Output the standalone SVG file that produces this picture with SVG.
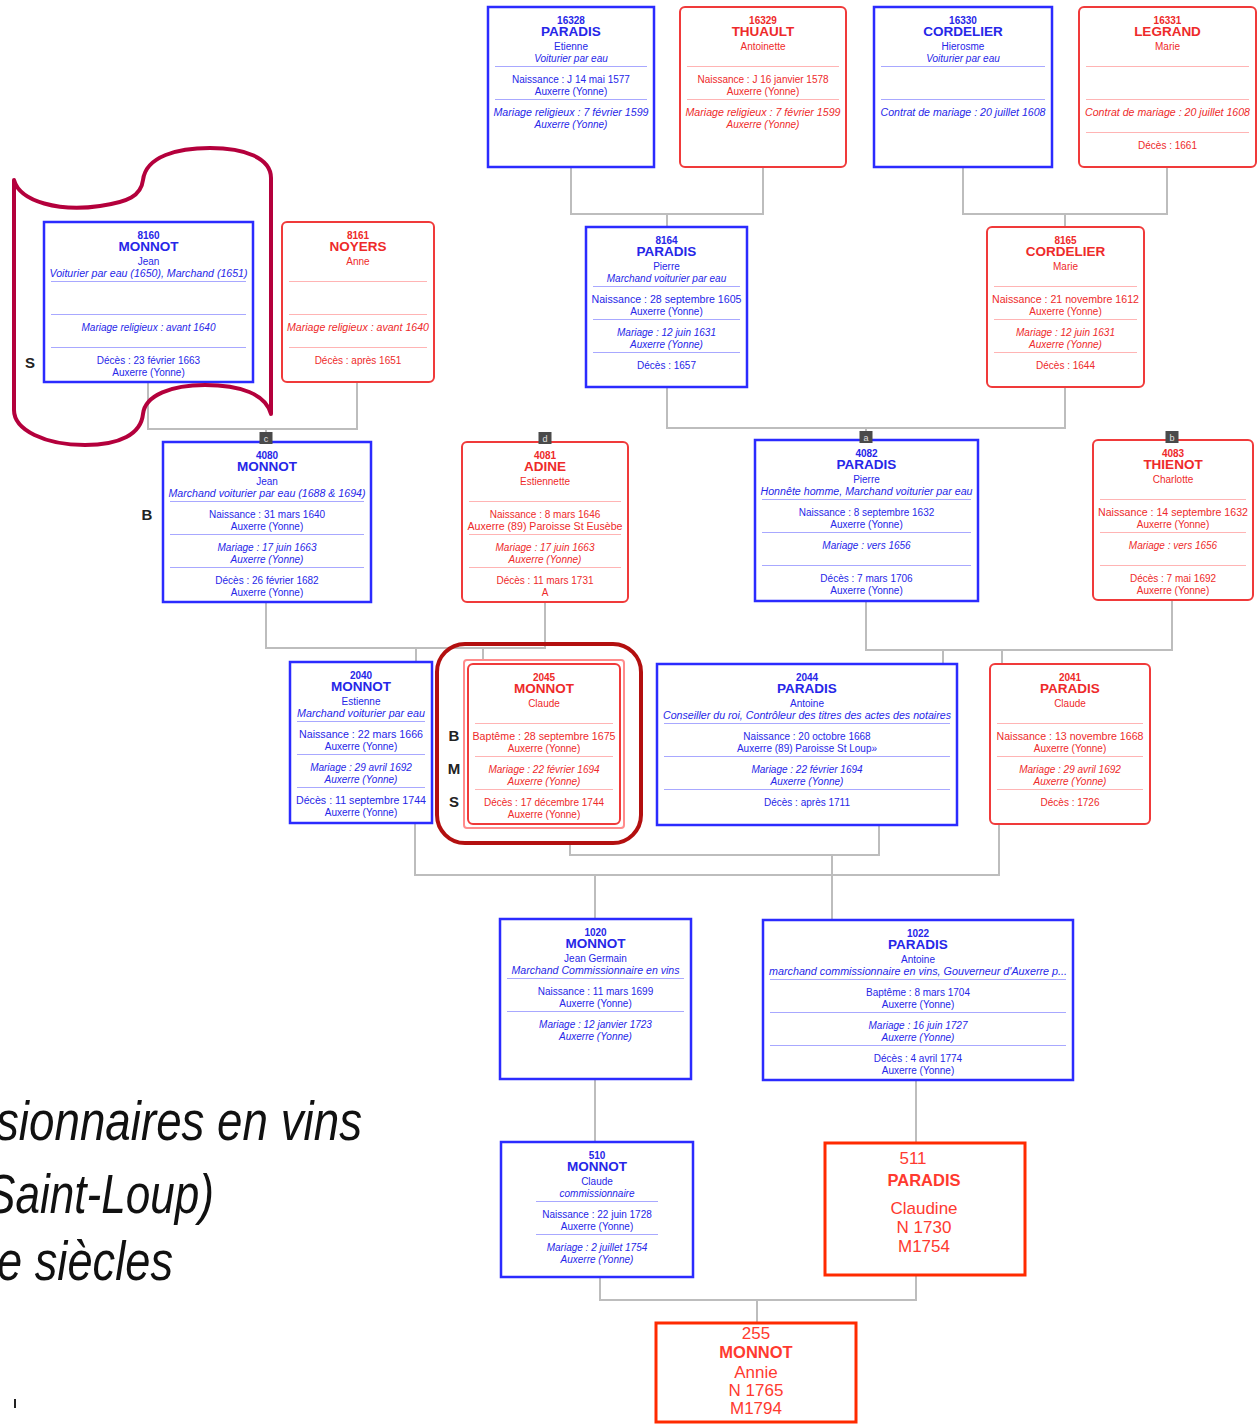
<svg xmlns="http://www.w3.org/2000/svg" width="1260" height="1426" viewBox="0 0 1260 1426">
<style>
text{font-family:"Liberation Sans",Arial,sans-serif;text-anchor:middle}
.bx{fill:#fff;stroke:#2b2bff;stroke-width:2.5}
.rx{fill:#fff;stroke:#f03a3a;stroke-width:2}
.ox{fill:#fff;stroke:#ff2a00;stroke-width:3}
.bt{fill:#2626e8}
.rt{fill:#ee2a2a}
.ot{fill:#ff3a30;font-size:17px}
.ob{font-weight:bold;font-size:16.5px}
.n{font-size:10px;font-weight:bold}
.m{font-size:13.5px;font-weight:bold}
.t{font-size:10px}
.i{font-size:10px;font-style:italic}
.db{stroke:#a8a8ff;stroke-width:1}
.dr{stroke:#ffb4b4;stroke-width:1}
.cn{fill:none;stroke:#bdbdbd;stroke-width:2}
.bd rect{fill:#4a4a4a}
.bd text{fill:#e0e0e0;font-size:9px}
.lb{font-size:15px;font-weight:bold;fill:#222}
.big{font-size:56px;font-style:italic;fill:#111;text-anchor:start}
</style>

<g id="connectors">
<path class="cn" d="M571,167V214H763V167M667,214V227"/>
<path class="cn" d="M963,167V214H1167V167M1065,214V227"/>
<path class="cn" d="M148,382V429H357V382M266,429V442"/>
<path class="cn" d="M667,387V428H1065V387M866,428V440"/>
<path class="cn" d="M266,602V648H545V602M416,648V662M483,648V660"/>
<path class="cn" d="M866,601V650H1172V600M943,650V664M1002,650V664"/>
<path class="cn" d="M415,823V875H999V824M595,875V919"/>
<path class="cn" d="M570,843V855H879V825M832,855V920"/>
<path class="cn" d="M595,1079V1142M916,1080V1143"/>
<path class="cn" d="M600,1277V1300H916V1275M757,1300V1323"/>
</g>

<g id="n16328">
<rect class="bx" x="488" y="7" width="166" height="160"/>
<g class="bt"><text class="n" x="571" y="24">16328</text><text class="m" x="571" y="36">PARADIS</text><text class="t" x="571" y="50">Etienne</text><text class="i" x="571" y="62">Voiturier par eau</text>
<text class="t" x="571" y="83">Naissance : J 14 mai 1577</text><text class="t" x="571" y="95">Auxerre (Yonne)</text>
<text class="i" x="571" y="116" textLength="155" lengthAdjust="spacingAndGlyphs">Mariage religieux : 7 février 1599</text><text class="i" x="571" y="128">Auxerre (Yonne)</text></g>
<path class="db" d="M495,66.5H647M495,99.5H647"/>
</g>

<g id="n16329">
<rect class="rx" x="680" y="7" width="166" height="160" rx="5"/>
<g class="rt"><text class="n" x="763" y="24">16329</text><text class="m" x="763" y="36">THUAULT</text><text class="t" x="763" y="50">Antoinette</text>
<text class="t" x="763" y="83">Naissance : J 16 janvier 1578</text><text class="t" x="763" y="95">Auxerre (Yonne)</text>
<text class="i" x="763" y="116" textLength="155" lengthAdjust="spacingAndGlyphs">Mariage religieux : 7 février 1599</text><text class="i" x="763" y="128">Auxerre (Yonne)</text></g>
<path class="dr" d="M687,66.5H839M687,99.5H839"/>
</g>

<g id="n16330">
<rect class="bx" x="874" y="7" width="178" height="160"/>
<g class="bt"><text class="n" x="963" y="24">16330</text><text class="m" x="963" y="36">CORDELIER</text><text class="t" x="963" y="50">Hierosme</text><text class="i" x="963" y="62">Voiturier par eau</text>
<text class="i" x="963" y="116" textLength="165" lengthAdjust="spacingAndGlyphs">Contrat de mariage : 20 juillet 1608</text></g>
<path class="db" d="M881,66.5H1045M881,99.5H1045"/>
</g>

<g id="n16331">
<rect class="rx" x="1079" y="7" width="177" height="160" rx="5"/>
<g class="rt"><text class="n" x="1167.5" y="24">16331</text><text class="m" x="1167.5" y="36">LEGRAND</text><text class="t" x="1167.5" y="50">Marie</text>
<text class="i" x="1167.5" y="116" textLength="165" lengthAdjust="spacingAndGlyphs">Contrat de mariage : 20 juillet 1608</text>
<text class="t" x="1167.5" y="149">Décès : 1661</text></g>
<path class="dr" d="M1086,66.5H1249M1086,99.5H1249M1086,132.5H1249"/>
</g>

<g id="n8160">
<rect class="bx" x="44" y="222" width="209" height="160"/>
<g class="bt"><text class="n" x="148.5" y="239">8160</text><text class="m" x="148.5" y="251">MONNOT</text><text class="t" x="148.5" y="265">Jean</text><text class="i" x="148.5" y="277" textLength="198" lengthAdjust="spacingAndGlyphs">Voiturier par eau (1650), Marchand (1651)</text>
<text class="i" x="148.5" y="331">Mariage religieux : avant 1640</text>
<text class="t" x="148.5" y="364">Décès : 23 février 1663</text><text class="t" x="148.5" y="376">Auxerre (Yonne)</text></g>
<path class="db" d="M51,281.5H246M51,314.5H246M51,347.5H246"/>
</g>

<g id="n8161">
<rect class="rx" x="282" y="222" width="152" height="160" rx="5"/>
<g class="rt"><text class="n" x="358" y="239">8161</text><text class="m" x="358" y="251">NOYERS</text><text class="t" x="358" y="265">Anne</text>
<text class="i" x="358" y="331" textLength="142" lengthAdjust="spacingAndGlyphs">Mariage religieux : avant 1640</text>
<text class="t" x="358" y="364">Décès : après 1651</text></g>
<path class="dr" d="M289,281.5H427M289,314.5H427M289,347.5H427"/>
</g>

<g id="n8164">
<rect class="bx" x="586" y="227" width="161" height="160"/>
<g class="bt"><text class="n" x="666.5" y="244">8164</text><text class="m" x="666.5" y="256">PARADIS</text><text class="t" x="666.5" y="270">Pierre</text><text class="i" x="666.5" y="282">Marchand voiturier par eau</text>
<text class="t" x="666.5" y="303" textLength="150" lengthAdjust="spacingAndGlyphs">Naissance : 28 septembre 1605</text><text class="t" x="666.5" y="315">Auxerre (Yonne)</text>
<text class="i" x="666.5" y="336">Mariage : 12 juin 1631</text><text class="i" x="666.5" y="348">Auxerre (Yonne)</text>
<text class="t" x="666.5" y="369">Décès : 1657</text></g>
<path class="db" d="M593,286.5H740M593,319.5H740M593,352.5H740"/>
</g>

<g id="n8165">
<rect class="rx" x="987" y="227" width="157" height="160" rx="5"/>
<g class="rt"><text class="n" x="1065.5" y="244">8165</text><text class="m" x="1065.5" y="256">CORDELIER</text><text class="t" x="1065.5" y="270">Marie</text>
<text class="t" x="1065.5" y="303" textLength="147" lengthAdjust="spacingAndGlyphs">Naissance : 21 novembre 1612</text><text class="t" x="1065.5" y="315">Auxerre (Yonne)</text>
<text class="i" x="1065.5" y="336">Mariage : 12 juin 1631</text><text class="i" x="1065.5" y="348">Auxerre (Yonne)</text>
<text class="t" x="1065.5" y="369">Décès : 1644</text></g>
<path class="dr" d="M994,286.5H1137M994,319.5H1137M994,352.5H1137"/>
</g>

<g id="n4080">
<rect class="bx" x="163" y="442" width="208" height="160"/>
<g class="bt"><text class="n" x="267" y="459">4080</text><text class="m" x="267" y="471">MONNOT</text><text class="t" x="267" y="485">Jean</text><text class="i" x="267" y="497" textLength="197" lengthAdjust="spacingAndGlyphs">Marchand voiturier par eau (1688 &amp; 1694)</text>
<text class="t" x="267" y="518">Naissance : 31 mars 1640</text><text class="t" x="267" y="530">Auxerre (Yonne)</text>
<text class="i" x="267" y="551">Mariage : 17 juin 1663</text><text class="i" x="267" y="563">Auxerre (Yonne)</text>
<text class="t" x="267" y="584">Décès : 26 février 1682</text><text class="t" x="267" y="596">Auxerre (Yonne)</text></g>
<path class="db" d="M170,501.5H364M170,534.5H364M170,567.5H364"/>
</g>

<g id="n4081">
<rect class="rx" x="462" y="442" width="166" height="160" rx="5"/>
<g class="rt"><text class="n" x="545" y="459">4081</text><text class="m" x="545" y="471">ADINE</text><text class="t" x="545" y="485">Estiennette</text>
<text class="t" x="545" y="518">Naissance : 8 mars 1646</text><text class="t" x="545" y="530" textLength="155" lengthAdjust="spacingAndGlyphs">Auxerre (89) Paroisse St Eusèbe</text>
<text class="i" x="545" y="551">Mariage : 17 juin 1663</text><text class="i" x="545" y="563">Auxerre (Yonne)</text>
<text class="t" x="545" y="584">Décès : 11 mars 1731</text><text class="t" x="545" y="596">A</text></g>
<path class="dr" d="M469,501.5H621M469,534.5H621M469,567.5H621"/>
</g>

<g id="n4082">
<rect class="bx" x="755" y="440" width="223" height="161"/>
<g class="bt"><text class="n" x="866.5" y="457">4082</text><text class="m" x="866.5" y="469">PARADIS</text><text class="t" x="866.5" y="483">Pierre</text><text class="i" x="866.5" y="495" textLength="212" lengthAdjust="spacingAndGlyphs">Honnête homme, Marchand voiturier par eau</text>
<text class="t" x="866.5" y="516">Naissance : 8 septembre 1632</text><text class="t" x="866.5" y="528">Auxerre (Yonne)</text>
<text class="i" x="866.5" y="549">Mariage : vers 1656</text>
<text class="t" x="866.5" y="582">Décès : 7 mars 1706</text><text class="t" x="866.5" y="594">Auxerre (Yonne)</text></g>
<path class="db" d="M762,499.5H971M762,532.5H971M762,565.5H971"/>
</g>

<g id="n4083">
<rect class="rx" x="1093" y="440" width="160" height="160" rx="5"/>
<g class="rt"><text class="n" x="1173" y="457">4083</text><text class="m" x="1173" y="469">THIENOT</text><text class="t" x="1173" y="483">Charlotte</text>
<text class="t" x="1173" y="516" textLength="150" lengthAdjust="spacingAndGlyphs">Naissance : 14 septembre 1632</text><text class="t" x="1173" y="528">Auxerre (Yonne)</text>
<text class="i" x="1173" y="549">Mariage : vers 1656</text>
<text class="t" x="1173" y="582">Décès : 7 mai 1692</text><text class="t" x="1173" y="594">Auxerre (Yonne)</text></g>
<path class="dr" d="M1100,499.5H1246M1100,532.5H1246M1100,565.5H1246"/>
</g>

<g id="badges" class="bd">
<rect x="259.5" y="432" width="13" height="12"/><text x="266" y="441.5">c</text>
<rect x="538.5" y="432" width="13" height="12"/><text x="545" y="441.5">d</text>
<rect x="859.5" y="431" width="13" height="12"/><text x="866" y="440.5">a</text>
<rect x="1165.5" y="431" width="13" height="12"/><text x="1172" y="440.5">b</text>
</g>

<g id="n2040">
<rect class="bx" x="290" y="662" width="142" height="161"/>
<g class="bt"><text class="n" x="361" y="679">2040</text><text class="m" x="361" y="691">MONNOT</text><text class="t" x="361" y="705">Estienne</text><text class="i" x="361" y="717" textLength="128" lengthAdjust="spacingAndGlyphs">Marchand voiturier par eau</text>
<text class="t" x="361" y="738" textLength="124" lengthAdjust="spacingAndGlyphs">Naissance : 22 mars 1666</text><text class="t" x="361" y="750">Auxerre (Yonne)</text>
<text class="i" x="361" y="771">Mariage : 29 avril 1692</text><text class="i" x="361" y="783">Auxerre (Yonne)</text>
<text class="t" x="361" y="804" textLength="130" lengthAdjust="spacingAndGlyphs">Décès : 11 septembre 1744</text><text class="t" x="361" y="816">Auxerre (Yonne)</text></g>
<path class="db" d="M297,721.5H425M297,754.5H425M297,787.5H425"/>
</g>

<g id="n2045">
<rect x="464" y="660" width="160" height="168" rx="3" fill="#fff" stroke="#ff8c8c" stroke-width="2"/>
<rect class="rx" x="468" y="664" width="152" height="160" rx="5"/>
<g class="rt"><text class="n" x="544" y="681">2045</text><text class="m" x="544" y="693">MONNOT</text><text class="t" x="544" y="707">Claude</text>
<text class="t" x="544" y="740" textLength="143" lengthAdjust="spacingAndGlyphs">Baptême : 28 septembre 1675</text><text class="t" x="544" y="752">Auxerre (Yonne)</text>
<text class="i" x="544" y="773">Mariage : 22 février 1694</text><text class="i" x="544" y="785">Auxerre (Yonne)</text>
<text class="t" x="544" y="806">Décès : 17 décembre 1744</text><text class="t" x="544" y="818">Auxerre (Yonne)</text></g>
<path class="dr" d="M475,723.5H613M475,756.5H613M475,789.5H613"/>
<rect x="437" y="644" width="204" height="199" rx="28" fill="none" stroke="#b30f0f" stroke-width="4"/>
</g>

<g id="n2044">
<rect class="bx" x="657" y="664" width="300" height="161"/>
<g class="bt"><text class="n" x="807" y="681">2044</text><text class="m" x="807" y="693">PARADIS</text><text class="t" x="807" y="707">Antoine</text><text class="i" x="807" y="719" textLength="288" lengthAdjust="spacingAndGlyphs">Conseiller du roi, Contrôleur des titres des actes des notaires</text>
<text class="t" x="807" y="740">Naissance : 20 octobre 1668</text><text class="t" x="807" y="752">Auxerre (89) Paroisse St Loup»</text>
<text class="i" x="807" y="773">Mariage : 22 février 1694</text><text class="i" x="807" y="785">Auxerre (Yonne)</text>
<text class="t" x="807" y="806">Décès : après 1711</text></g>
<path class="db" d="M664,723.5H950M664,756.5H950M664,789.5H950"/>
</g>

<g id="n2041">
<rect class="rx" x="990" y="664" width="160" height="160" rx="5"/>
<g class="rt"><text class="n" x="1070" y="681">2041</text><text class="m" x="1070" y="693">PARADIS</text><text class="t" x="1070" y="707">Claude</text>
<text class="t" x="1070" y="740" textLength="147" lengthAdjust="spacingAndGlyphs">Naissance : 13 novembre 1668</text><text class="t" x="1070" y="752">Auxerre (Yonne)</text>
<text class="i" x="1070" y="773">Mariage : 29 avril 1692</text><text class="i" x="1070" y="785">Auxerre (Yonne)</text>
<text class="t" x="1070" y="806">Décès : 1726</text></g>
<path class="dr" d="M997,723.5H1143M997,756.5H1143M997,789.5H1143"/>
</g>

<g id="n1020">
<rect class="bx" x="500" y="919" width="191" height="160"/>
<g class="bt"><text class="n" x="595.5" y="936">1020</text><text class="m" x="595.5" y="948">MONNOT</text><text class="t" x="595.5" y="962">Jean Germain</text><text class="i" x="595.5" y="974" textLength="168" lengthAdjust="spacingAndGlyphs">Marchand Commissionnaire en vins</text>
<text class="t" x="595.5" y="995">Naissance : 11 mars 1699</text><text class="t" x="595.5" y="1007">Auxerre (Yonne)</text>
<text class="i" x="595.5" y="1028">Mariage : 12 janvier 1723</text><text class="i" x="595.5" y="1040">Auxerre (Yonne)</text></g>
<path class="db" d="M507,978.5H684M507,1011.5H684"/>
</g>

<g id="n1022">
<rect class="bx" x="763" y="920" width="310" height="160"/>
<g class="bt"><text class="n" x="918" y="937">1022</text><text class="m" x="918" y="949">PARADIS</text><text class="t" x="918" y="963">Antoine</text><text class="i" x="918" y="975" textLength="298" lengthAdjust="spacingAndGlyphs">marchand commissionnaire en vins, Gouverneur d'Auxerre p...</text>
<text class="t" x="918" y="996">Baptême : 8 mars 1704</text><text class="t" x="918" y="1008">Auxerre (Yonne)</text>
<text class="i" x="918" y="1029">Mariage : 16 juin 1727</text><text class="i" x="918" y="1041">Auxerre (Yonne)</text>
<text class="t" x="918" y="1062">Décès : 4 avril 1774</text><text class="t" x="918" y="1074">Auxerre (Yonne)</text></g>
<path class="db" d="M770,979.5H1066M770,1012.5H1066M770,1045.5H1066"/>
</g>

<g id="n510">
<rect class="bx" x="501" y="1142" width="192" height="135"/>
<g class="bt"><text class="n" x="597" y="1159">510</text><text class="m" x="597" y="1171">MONNOT</text><text class="t" x="597" y="1185">Claude</text><text class="i" x="597" y="1197">commissionnaire</text>
<text class="t" x="597" y="1218">Naissance : 22 juin 1728</text><text class="t" x="597" y="1230">Auxerre (Yonne)</text>
<text class="i" x="597" y="1251">Mariage : 2 juillet 1754</text><text class="i" x="597" y="1263">Auxerre (Yonne)</text></g>
<path class="db" d="M536,1201.5H658M536,1234.5H658"/>
</g>

<g id="n511">
<rect class="ox" x="825" y="1143" width="200" height="132"/>
<g class="ot"><text x="913" y="1164">511</text><text class="ob" x="924" y="1186">PARADIS</text><text x="924" y="1214">Claudine</text><text x="924" y="1233">N 1730</text><text x="924" y="1252">M1754</text></g>
</g>

<g id="n255">
<rect class="ox" x="656" y="1323" width="200" height="99"/>
<g class="ot"><text x="756" y="1339">255</text><text class="ob" x="756" y="1358">MONNOT</text><text x="756" y="1378">Annie</text><text x="756" y="1396">N 1765</text><text x="756" y="1414">M1794</text></g>
</g>

<g id="highlight-scroll">
<path d="M14,180 C20,202 60,212 100,206 C128,202 141,196 143,180 C146,156 178,148 210,148 C245,148 271,158 271,178 L271,414 C266,394 240,385 205,385 C172,385 145,395 143,414 C141,434 120,445 85,445 C45,445 14,430 14,410 Z" fill="none" stroke="#b4003c" stroke-width="4" stroke-linejoin="round"/>
</g>

<g id="labels">
<text class="lb" x="30" y="368">S</text>
<text class="lb" x="147" y="520">B</text>
<text class="lb" x="454" y="741">B</text>
<text class="lb" x="454" y="774">M</text>
<text class="lb" x="454" y="807">S</text>
</g>

<g id="title">
<text class="big" x="-4" y="1140" textLength="366" lengthAdjust="spacingAndGlyphs">sionnaires en vins</text>
<text class="big" x="-14" y="1213" textLength="228" lengthAdjust="spacingAndGlyphs">Saint-Loup)</text>
<text class="big" x="-3" y="1280" textLength="176" lengthAdjust="spacingAndGlyphs">e siècles</text>
<rect x="14" y="1399" width="2" height="9" fill="#222"/>
</g>
</svg>
